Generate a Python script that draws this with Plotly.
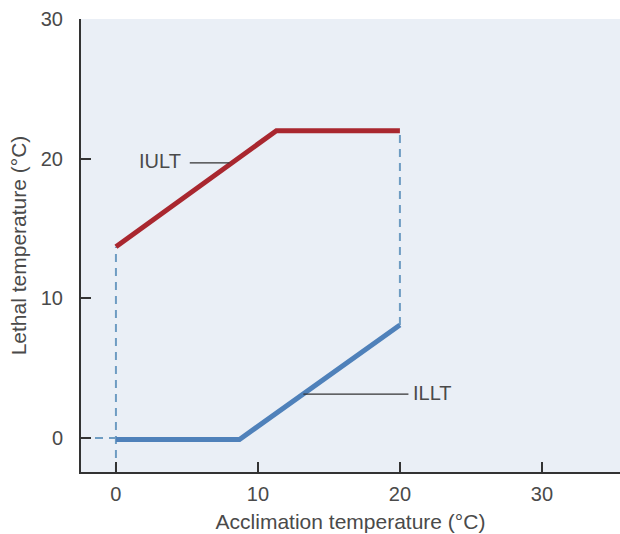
import plotly.graph_objects as go

# Data
iult_x = [0, 11.3, 20]
iult_y = [13.7, 22, 22]
illt_x = [0, 8.7, 20]
illt_y = [-0.1, -0.1, 8.1]
x_ticks = [0, 10, 20, 30]
y_ticks = [0, 10, 20, 30]

RED = "#a9272f"
BLUE = "#4f81ba"
DASH = "#6e9cc2"
TXT = "#4a4a4a"
FONT = "Liberation Sans, Arial, sans-serif"

fig = go.Figure()

# dashed guide lines
fig.add_trace(go.Scatter(x=[0, 0], y=[-2.43, iult_y[0]], mode="lines",
                         line=dict(color=DASH, width=2, dash="8px,6px"), hoverinfo="skip"))
fig.add_trace(go.Scatter(x=[20, 20], y=[illt_y[-1], iult_y[-1]], mode="lines",
                         line=dict(color=DASH, width=2, dash="8px,6px"), hoverinfo="skip"))
fig.add_trace(go.Scatter(x=[-2.46, 0], y=[0, 0], mode="lines",
                         line=dict(color=DASH, width=2, dash="8px,6px"), hoverinfo="skip"))

# main lines
fig.add_trace(go.Scatter(x=iult_x, y=iult_y, mode="lines",
                         line=dict(color=RED, width=5), name="IULT"))
fig.add_trace(go.Scatter(x=illt_x, y=illt_y, mode="lines",
                         line=dict(color=BLUE, width=5), name="ILLT"))

# leader lines
fig.add_trace(go.Scatter(x=[5.2, 8.0], y=[19.7, 19.7], mode="lines",
                         line=dict(color="#333333", width=1.3), hoverinfo="skip"))
fig.add_trace(go.Scatter(x=[13.2, 20.6], y=[3.14, 3.14], mode="lines",
                         line=dict(color="#333333", width=1.3), hoverinfo="skip"))

fig.add_annotation(x=4.7, y=19.8, text="IULT", showarrow=False, xanchor="right",
                   font=dict(family=FONT, size=20, color=TXT))
fig.add_annotation(x=20.8, y=3.2, text="ILLT", showarrow=False, xanchor="left",
                   font=dict(family=FONT, size=20, color=TXT))

fig.update_layout(
    width=620, height=534,
    margin=dict(l=81, r=0, t=19, b=62),
    paper_bgcolor="white",
    plot_bgcolor="#eaeff6",
    showlegend=False,
    font=dict(family=FONT, size=20, color=TXT),
)
fig.update_xaxes(range=[-2.46, 35.5], tickvals=x_ticks, showgrid=False, zeroline=False,
                 showline=True, linecolor="#333333", linewidth=2,
                 ticks="inside", ticklen=10, tickwidth=1.5, tickcolor="#333333",
                 ticklabelstandoff=3,
                 tickfont=dict(family=FONT, size=20, color=TXT),
                 title=dict(text="Acclimation temperature (°C)", standoff=10,
                            font=dict(family=FONT, size=21, color=TXT)))
fig.update_yaxes(range=[-2.43, 30], tickvals=y_ticks, showgrid=False, zeroline=False,
                 showline=True, linecolor="#333333", linewidth=2,
                 ticks="inside", ticklen=10, tickwidth=1.5, tickcolor="#333333",
                 ticklabelstandoff=12,
                 tickfont=dict(family=FONT, size=20, color=TXT),
                 title=dict(text="Lethal temperature (°C)", standoff=8,
                            font=dict(family=FONT, size=21, color=TXT)))

fig.write_html("out.html")
